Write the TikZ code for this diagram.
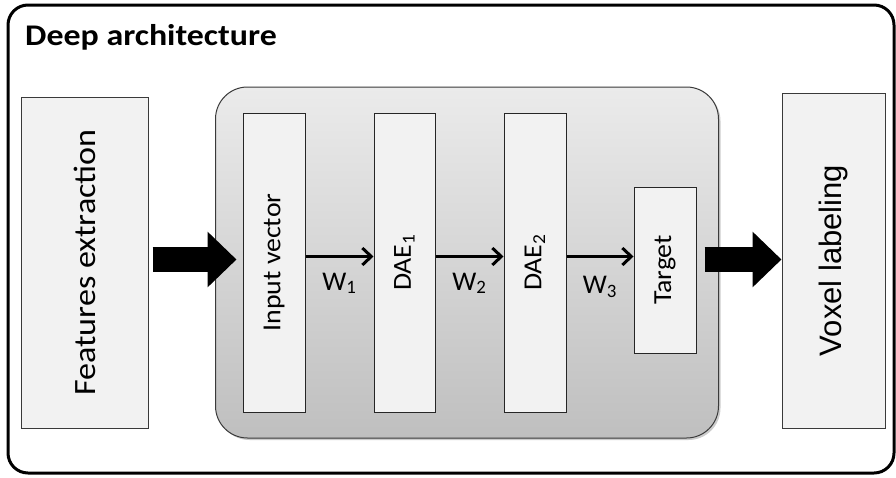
\documentclass[tikz,border=0pt]{standalone}
\usepackage{fontspec}
\setmainfont{Carlito}
\newfontfamily\arialfont{Liberation Sans}
\usetikzlibrary{arrows.meta,calc,shadows}
\definecolor{boxfill}{HTML}{F2F2F2}
\definecolor{boxline}{HTML}{3A3A3A}
\definecolor{gtop}{HTML}{EBEBEB}
\definecolor{gbot}{HTML}{BFBFBF}
\tikzset{
  plainbox/.style={draw=boxline, line width=1pt, fill=boxfill, inner sep=0pt, anchor=center},
  layerbox/.style={plainbox, draw=black!85, drop shadow={shadow xshift=1.2pt, shadow yshift=-1.2pt, opacity=0.35}},
  vtext/.style={rotate=90},
  layertext/.style={vtext, xscale=1.07, font=\fontsize{26}{30}\selectfont},
  thinarrow/.style={line width=3pt, -{Straight Barb[length=9pt,width=17pt,line width=3pt]}},
  bigarrow/.style={line width=25pt, -{Triangle[length=29pt,width=54pt]}},
  wlabel/.style={anchor=base, font=\fontsize{27}{30}\selectfont, inner sep=0pt}
}
\begin{document}
\begin{tikzpicture}[x=1pt,y=-1pt]
\useasboundingbox (0,0) rectangle (896,477);
\fill[white] (0,0) rectangle (896,477);
% outer frame
\node[draw=black, line width=3pt, rounded corners=20pt, minimum width=886pt, minimum height=468pt, inner sep=0pt] (frame) at (451,239) {};
\node[anchor=base west, inner sep=0pt, xscale=1.13, font=\fontsize{30}{34}\selectfont\bfseries] (title) at (25,45) {Deep architecture};
% container
\node[draw=boxline, line width=1pt, rounded corners=32pt, top color=gtop, bottom color=gbot, minimum width=503pt, minimum height=351pt, inner sep=0pt,
      drop shadow={shadow xshift=2pt, shadow yshift=-2pt, opacity=0.4}] (cont) at (467,262.5) {};
% side boxes
\node[plainbox, minimum width=127pt, minimum height=331pt, drop shadow={shadow xshift=1.2pt, shadow yshift=-1.2pt, opacity=0.3}] (feat) at (84.5,262.5) {};
\node[vtext, xscale=1.1, font=\fontsize{31}{34}\selectfont] at (feat.center) {Features extraction};
\node[plainbox, minimum width=103pt, minimum height=335pt, drop shadow={shadow xshift=1.2pt, shadow yshift=-1.2pt, opacity=0.3}] (vox) at (833.5,260.5) {};
\node[vtext, font=\arialfont\fontsize{31}{34}\selectfont] at (vox.center) {Voxel labeling};
% layers
\node[layerbox, minimum width=62pt, minimum height=299pt] (iv) at (274,262.5) {};
\node[layertext] at (iv.center) {Input vector};
\node[layerbox, minimum width=61pt, minimum height=299pt] (dae1) at (404.5,262.5) {};
\node[layertext] at (dae1.center) {DAE\textsubscript{1}};
\node[layerbox, minimum width=62pt, minimum height=299pt] (dae2) at (535,262.5) {};
\node[layertext] at (dae2.center) {DAE\textsubscript{2}};
\node[layerbox, minimum width=62pt, minimum height=166pt] (tgt) at (665,270) {};
\node[layertext] at (tgt.center) {Target};
% arrows
\coordinate (ay) at (0,256.5);
\draw[thinarrow] (iv.east |- ay) -- (dae1.west |- ay);
\draw[thinarrow] (dae1.east |- ay) -- (dae2.west |- ay);
\draw[thinarrow] (dae2.east |- ay) -- (tgt.west |- ay);
\node[wlabel] (w1) at ($(iv.east)!0.5!(dae1.west) + (0,27.5)$) {W\textsubscript{1}};
\node[wlabel] (w2) at ($(dae1.east)!0.5!(dae2.west) + (0,27.5)$) {W\textsubscript{2}};
\node[wlabel] (w3) at ($(dae2.east)!0.5!(tgt.west) + (0,27.5)$) {W\textsubscript{3}};
\coordinate (by) at (0,259.5);
\draw[bigarrow] ($(feat.east |- by)+(4,0)$) -- ($(iv.west |- by)+(-6,0)$);
\draw[bigarrow] ($(tgt.east |- by)+(8,0)$) -- (vox.west |- by);
\end{tikzpicture}
\end{document}
